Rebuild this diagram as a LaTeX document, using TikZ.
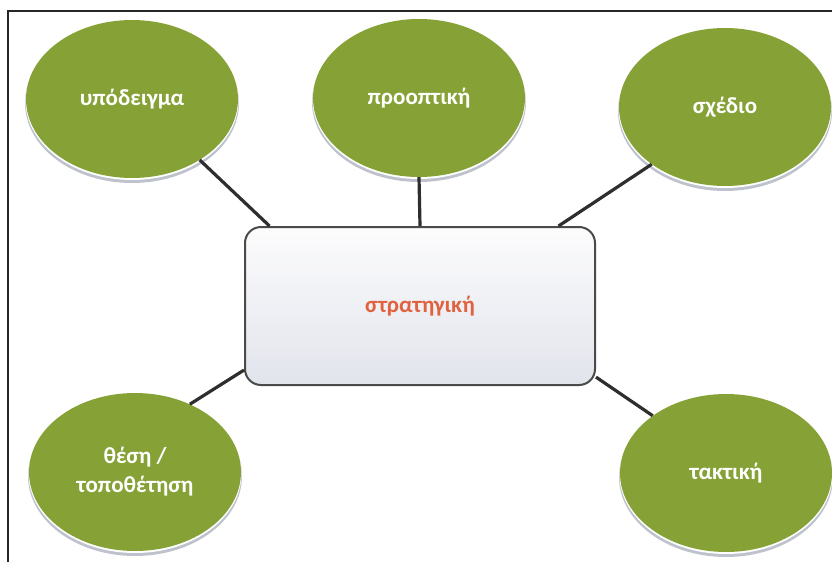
\documentclass[tikz,border=0pt]{standalone}
\usepackage{fontspec}
\setmainfont{Carlito}
\usetikzlibrary{shapes.geometric,calc}
\definecolor{leaf}{HTML}{86A236}
\definecolor{rim}{HTML}{BEC2CC}
\definecolor{wire}{HTML}{2E2E2E}
\definecolor{boxtop}{HTML}{FCFCFD}
\definecolor{boxbot}{HTML}{E2E4EC}
\definecolor{boxline}{HTML}{4A4A4A}
\definecolor{accent}{HTML}{E0623E}
\tikzset{
  bubble/.style={ellipse, fill=leaf, minimum width=212pt, minimum height=158pt,
    inner sep=0pt, text=white, font=\fontsize{23}{29}\selectfont\bfseries, align=center},
  bubbleshade/.style={ellipse, fill=rim, minimum width=214pt, minimum height=160pt, inner sep=0pt},
  bubblering/.style={ellipse, fill=white, minimum width=213pt, minimum height=159pt, inner sep=0pt},
  hub/.style={rectangle, rounded corners=16pt, draw=boxline, line width=2pt,
    top color=boxtop, bottom color=boxbot, minimum width=350pt, minimum height=158pt,
    text=accent, font=\fontsize{23}{28}\selectfont\bfseries},
  link/.style={draw=wire, line width=3.2pt},
  frame/.style={draw=black!85, line width=2pt}
}
\begin{document}
\begin{tikzpicture}[x=1pt,y=-1pt]
  \useasboundingbox (0,0) rectangle (832,562);
  \fill[white] (0,0) rectangle (832,562);
  % outer frame (left and top sides)
  \coordinate (fa) at (8,562);
  \coordinate (fb) at (8,11);
  \coordinate (fc) at (832,11);
  \draw[frame] (fa) -- (fb) -- (fc);

  % soft rims under the bubbles
  \foreach \x/\y in {132/99, 419/98, 725/107, 135/472, 726/473} {
    \node[bubbleshade] at (\x,\y+4) {};
    \node[bubblering] at (\x,\y+1.5) {};
  }

  % centre box
  \node[hub] (r) at (420,306) {στρατηγική};

  % bubbles
  \node[bubble] (e1) at (132,99) {υπόδειγμα};
  \node[bubble] (e2) at (419,98) {προοπτική};
  \node[bubble] (e3) at (725,107) {σχέδιο};
  \node[bubble] (e4) at (135,472) {θέση /\\τοποθέτηση};
  \node[bubble] (e5) at (726,473) {τακτική};

  % connectors
  \draw[link] (e1.-42) -- (r.152);
  \draw[link] (e2.south) -- (r.north);
  \draw[link] (e3.218) -- (r.30);
  \draw[link] (e4.51) -- (r.200);
  \draw[link] (e5.142) -- (r.-22);
\end{tikzpicture}
\end{document}
